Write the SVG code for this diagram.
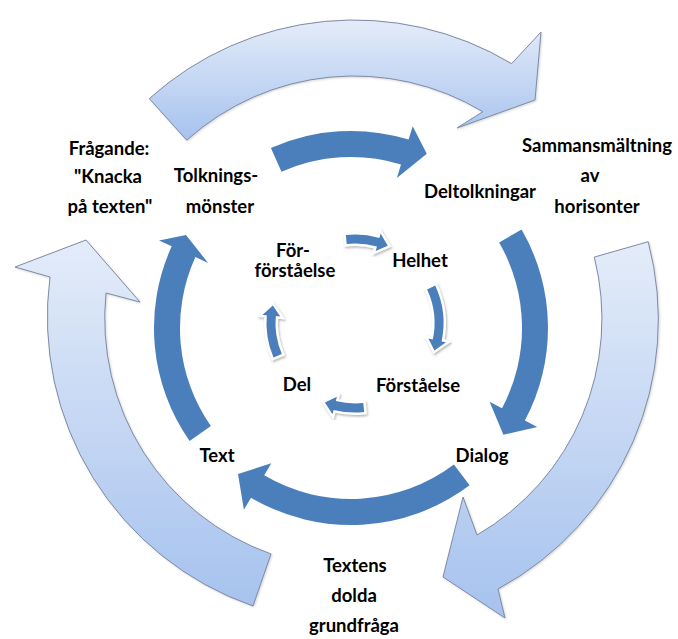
<svg xmlns="http://www.w3.org/2000/svg" width="678" height="639" viewBox="0 0 678 639">
<defs>
<linearGradient id="lg" x1="0" y1="0" x2="0" y2="1">
<stop offset="0" stop-color="#e4ecf9"/>
<stop offset="1" stop-color="#a6c2ee"/>
</linearGradient>
<filter id="sh" x="-30%" y="-30%" width="160%" height="160%">
<feDropShadow dx="1" dy="1.5" stdDeviation="1.2" flood-color="#777" flood-opacity="0.55"/>
</filter>
<filter id="sh2" x="-10%" y="-10%" width="120%" height="120%">
<feDropShadow dx="1" dy="1" stdDeviation="1" flood-color="#888" flood-opacity="0.35"/>
</filter>
</defs>
<style>
.outer{fill:url(#lg);stroke:#7d8ba3;stroke-width:1;filter:url(#sh2)}
.mid{fill:#4b7fbc}
.inner{fill:#4b7fbc;stroke:#fff;stroke-width:5;paint-order:stroke fill;stroke-linejoin:miter;filter:url(#sh)}
text{font-family:Lato,"Open Sans","Liberation Sans",sans-serif;font-weight:bold;font-size:18.5px;fill:#000;text-anchor:middle}
</style>
<g id="connectors">
<g id="outer-ring">
<path class="outer" d="M149.3,98.6 A306,306 0 0 1 511.6,63.7 L541,32 L535,100 L457,128 L482.8,111.7 A250,250 0 0 0 186.7,140.2 Z"/>
<path class="outer" d="M648.2,241.7 A306,306 0 0 1 498,589 L505,618 L443,577 L463,497 L477,535 A250,250 0 0 0 594.3,257.1 Z"/>
<path class="outer" d="M253,606 A306,306 0 0 1 50,277 L15,267 L86,240 L140,302 L106,293 A250,250 0 0 0 271,554 Z"/>
</g>
<g id="middle-ring">
<path class="mid" d="M270.9,148.0 A197,197 0 0 1 408.6,139.6 L412.7,126.2 L426.8,153.8 L396.9,177.9 L401.0,164.5 A171,171 0 0 0 281.5,171.8 Z"/>
<path class="mid" d="M521.6,229.5 A197,197 0 0 1 524.9,420.5 L537.3,427.1 L503.4,434.7 L489.6,401.7 L502.0,408.3 A171,171 0 0 0 499.1,242.5 Z"/>
<path class="mid" d="M469.6,485.3 A197,197 0 0 1 251.0,497.7 L243.9,509.8 L238,474 L271.3,463.3 L264.2,475.3 A171,171 0 0 0 453.9,464.6 Z"/>
<path class="mid" d="M189.6,441.0 A197,197 0 0 1 171.7,246.3 L159.0,240.5 L186,235 L208.1,262.9 L195.4,257.1 A171,171 0 0 0 210.9,426.1 Z"/>
</g>
<g id="inner-ring">
<path class="inner" d="M345.8,235.0 A88.5,88.5 0 0 1 379.4,237.9 L380.6,233.6 L387.8,245.7 L375.7,250.9 L376.9,246.6 A79.5,79.5 0 0 0 346.7,243.9 Z"/>
<path class="inner" d="M435.2,285.6 A88.5,88.5 0 0 1 441.6,341.4 L446.0,342.3 L434.4,350.4 L428.4,338.6 L432.8,339.5 A79.5,79.5 0 0 0 427.1,289.4 Z"/>
<path class="inner" d="M364.2,412.0 A88.5,88.5 0 0 1 333.6,409.9 L332.5,414.2 L324.9,402.4 L336.9,396.8 L335.8,401.1 A79.5,79.5 0 0 0 363.3,403.1 Z"/>
<path class="inner" d="M273.5,357.6 A88.5,88.5 0 0 1 266.8,315.3 L262.4,314.9 L272.8,305.5 L280.3,316.5 L275.8,316.1 A79.5,79.5 0 0 0 281.8,354.1 Z"/>
</g>
</g>
<g id="node-fragande"><text x="109" y="155">Frågande:</text><text x="108" y="183">"Knacka</text><text x="110" y="213">på texten"</text></g>
<g id="node-sammansmaltning"><text x="597" y="152">Sammansmältning</text><text x="590" y="182">av</text><text x="597" y="213">horisonter</text></g>
<g id="node-textens"><text x="355" y="572">Textens</text><text x="354" y="602">dolda</text><text x="354" y="632">grundfråga</text></g>
<g id="node-tolkningsmonster"><text x="216" y="182">Tolknings-</text><text x="220" y="213">mönster</text></g>
<g id="node-deltolkningar"><text x="480" y="198">Deltolkningar</text></g>
<g id="node-dialog"><text x="482" y="462">Dialog</text></g>
<g id="node-text"><text x="217" y="462">Text</text></g>
<g id="node-forforstaelse"><text x="293" y="257">För-</text><text x="295" y="277">förståelse</text></g>
<g id="node-helhet"><text x="420" y="267">Helhet</text></g>
<g id="node-forstaelse"><text x="418" y="392">Förståelse</text></g>
<g id="node-del"><text x="297" y="391">Del</text></g>
</svg>
